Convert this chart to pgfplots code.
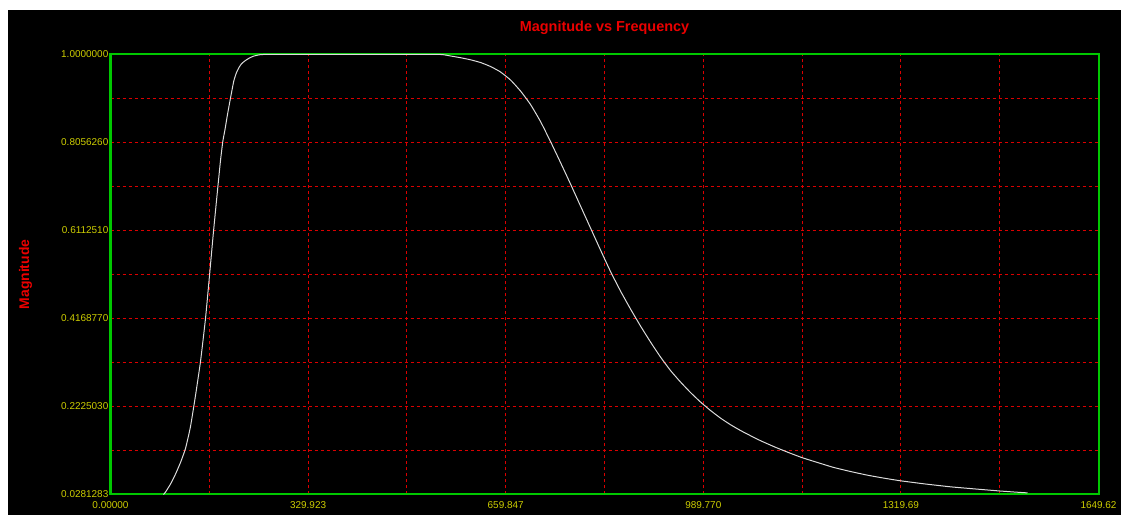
\documentclass[border=0pt]{standalone}
\usepackage{pgfplots}
\pgfplotsset{compat=1.18}
\usepackage{fontspec}
\setmainfont{Liberation Sans}

\definecolor{scopebg}{RGB}{0,0,0}
\definecolor{framegreen}{RGB}{0,200,0}
\definecolor{gridred}{RGB}{220,0,0}
\definecolor{ticktext}{RGB}{205,205,0}
\definecolor{titlered}{RGB}{235,0,0}
\definecolor{trace}{RGB}{220,220,220}

% magnitude response: frequency, magnitude
\pgfplotstableread{
f       mag
88.49   0.0281
91.83   0.0334
100.18  0.0511
108.53  0.0732
116.88  0.0988
125.22  0.1297
133.57  0.1783
141.92  0.2468
150.27  0.3219
158.62  0.4169
165.30  0.5118
171.97  0.6090
178.65  0.6996
183.66  0.7659
187.50  0.8078
191.18  0.8343
195.35  0.8675
200.36  0.9039
205.87  0.9415
210.38  0.9602
214.55  0.9713
218.72  0.9795
225.40  0.9868
232.08  0.9923
238.76  0.9963
247.11  0.9989
255.46  1.0000
317.23  1.0000
400.72  1.0000
484.20  1.0000
550.99  1.0000
567.68  0.9967
584.38  0.9929
601.08  0.9883
617.77  0.9823
634.47  0.9735
651.17  0.9614
667.86  0.9437
684.56  0.9194
701.26  0.8896
717.95  0.8520
734.65  0.8078
751.35  0.7614
768.04  0.7140
784.74  0.6654
801.43  0.6168
818.13  0.5682
834.83  0.5207
851.52  0.4776
868.22  0.4379
884.92  0.4003
901.61  0.3650
918.31  0.3318
935.01  0.3020
951.70  0.2766
968.40  0.2534
985.10  0.2324
1001.79 0.2137
1018.49 0.1969
1035.19 0.1823
1051.88 0.1695
1068.58 0.1580
1085.28 0.1470
1110.32 0.1324
1135.37 0.1191
1155.40 0.1092
1180.45 0.0988
1207.16 0.0880
1235.55 0.0789
1263.93 0.0708
1290.65 0.0644
1319.03 0.0584
1360.77 0.0513
1402.51 0.0451
1444.25 0.0403
1482.65 0.0361
1511.03 0.0334
1531.07 0.0317
}\magdata

\begin{document}
\begin{tikzpicture}
% window background
\fill[white] (0,0) rectangle (1121bp,515bp);
\fill[scopebg] (8bp,0) rectangle (1121bp,505bp);
\begin{axis}[
  at={(110.5bp,20.5bp)}, anchor=south west,
  scale only axis, width=988bp, height=440bp,
  xmin=0, xmax=1649.62,
  ymin=0.0281283, ymax=1.0,
  clip=false,
  /pgf/number format/assume math mode=true,
  xtick={0,329.923,659.847,989.770,1319.69,1649.62},
  xticklabels={0.00000,329.923,659.847,989.770,1319.69,1649.62},
  minor xtick={164.962,494.885,824.809,1154.73,1484.66},
  ytick={0.0281283,0.222503,0.416877,0.611251,0.805626,1.0},
  yticklabels={0.0281283,0.2225030,0.4168770,0.6112510,0.8056260,1.0000000},
  minor ytick={0.1253157,0.31969,0.514064,0.708439,0.902813},
  major tick length=0pt, minor tick length=0pt,
  grid=both,
  major grid style={gridred, line width=1bp, dash pattern=on 3bp off 3bp},
  minor grid style={gridred, line width=1bp, dash pattern=on 3bp off 3bp},
  axis line style={framegreen, line width=2bp},
  tick label style={font=\fontsize{10}{12}\selectfont, text=ticktext},
  xticklabel style={anchor=center, yshift=-11bp},
  yticklabel style={anchor=east, inner sep=0pt, xshift=-2bp},
  title={Magnitude vs Frequency},
  title style={at={(axis description cs:0.5,1.048)}, anchor=center,
    font=\bfseries\fontsize{14.5}{17}\selectfont, text=titlered},
  ylabel={Magnitude},
  ylabel style={at={(axis description cs:-0.086,0.5)}, anchor=center,
    font=\bfseries\fontsize{14}{16}\selectfont, text=titlered},
]
\addplot[trace, line width=1bp, smooth, tension=0.3] table[x=f, y=mag] {\magdata};
\end{axis}
\end{tikzpicture}
\end{document}
